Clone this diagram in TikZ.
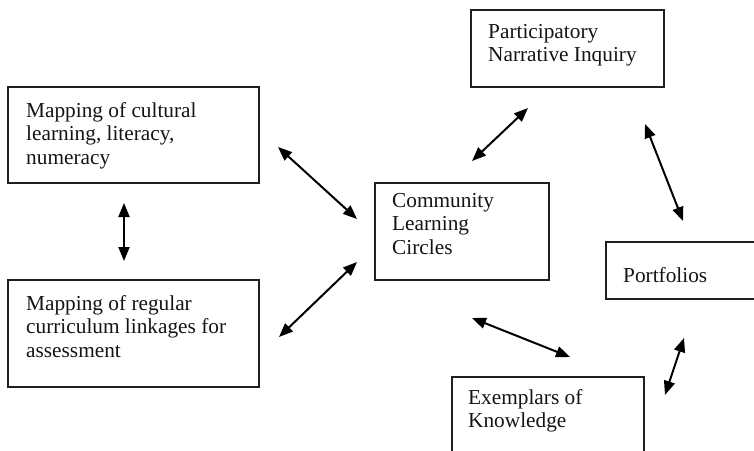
\documentclass[tikz,border=0pt]{standalone}
\usepackage{fontspec}
\setmainfont{Liberation Serif}
\usetikzlibrary{arrows.meta}
\begin{document}
\begin{tikzpicture}[x=1pt,y=-1pt,
  box/.style={draw=black!88, line width=1.3pt},
  txt/.style={anchor=north west, inner sep=0pt, align=left, font=\fontsize{21.3}{23.5}\selectfont, text=black!92},
  link/.style={line width=2pt, {Triangle[length=14pt,width=11pt]}-{Triangle[length=14pt,width=11pt]}}]
\useasboundingbox (0,0) rectangle (754,450);
\clip (0,0) rectangle (754,450);
% boxes
\draw[box] (8,87) rectangle (259,183);
\coordinate (cultural) at (8,87);
\draw[box] (8,280) rectangle (259,387);
\coordinate (regular) at (8,280);
\draw[box] (471,10) rectangle (664,87);
\coordinate (narr) at (471,10);
\draw[box] (375,183) rectangle (549,280);
\coordinate (comm) at (375,183);
\draw[box] (606,242) rectangle (760,299);
\coordinate (port) at (606,242);
\draw[box] (452,377) rectangle (644,460);
\coordinate (exem) at (452,377);
% texts
\node[txt] (tA) at ([xshift=18,yshift=-15]cultural) {Mapping of cultural\\learning, literacy,\\numeracy};
\node[txt] (tB) at ([xshift=18,yshift=-15]regular) {Mapping of regular\\curriculum linkages for\\assessment};
\node[txt] (tC) at ([xshift=17,yshift=-14]narr) {Participatory\\Narrative Inquiry};
\node[txt] (tD) at ([xshift=17,yshift=-10]comm) {Community\\Learning\\Circles};
\node[txt] (tE) at ([xshift=17,yshift=-25]port) {Portfolios};
\node[txt] (tF) at ([xshift=16,yshift=-12]exem) {Exemplars of\\Knowledge};
% arrow end points
\coordinate (a1) at (278,147); \coordinate (a2) at (357,219);
\coordinate (b1) at (124,203); \coordinate (b2) at (124,261);
\coordinate (c1) at (279,337); \coordinate (c2) at (357,262);
\coordinate (d1) at (472,161); \coordinate (d2) at (528,108);
\coordinate (e1) at (645,124); \coordinate (e2) at (683,221);
\coordinate (f1) at (472,318); \coordinate (f2) at (570,357);
\coordinate (g1) at (684,338); \coordinate (g2) at (665,395);
\draw[link] (a1) -- (a2);
\draw[link] (b1) -- (b2);
\draw[link] (c1) -- (c2);
\draw[link] (d1) -- (d2);
\draw[link] (e1) -- (e2);
\draw[link] (f1) -- (f2);
\draw[link] (g1) -- (g2);
\end{tikzpicture}
\end{document}
